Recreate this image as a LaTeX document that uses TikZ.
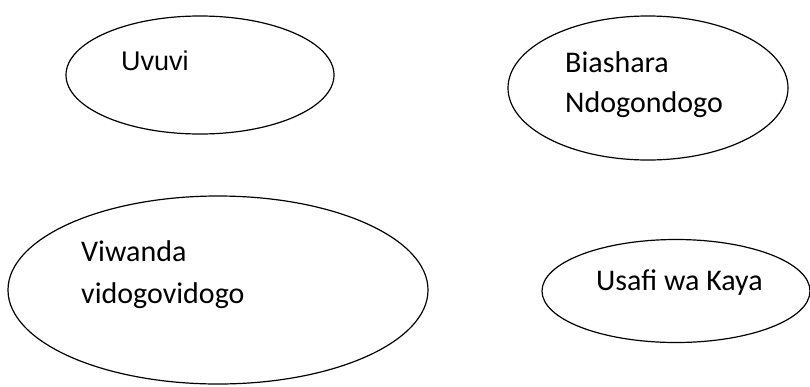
\documentclass[tikz,border=0pt]{standalone}
\usepackage{fontspec}
\usetikzlibrary{shapes.geometric}
\newfontfamily\bodyfont{Carlito}
\newfontfamily\arialfont{Liberation Sans}
\begin{document}
\begin{tikzpicture}[x=1pt,y=-1pt,
  blob/.style={draw=black, line width=1.2pt, ellipse, inner sep=0pt},
  caption/.style={anchor=base west, inner sep=0pt, font=\bodyfont\fontsize{30}{40}\selectfont},
  capsans/.style={anchor=base west, inner sep=0pt, font=\arialfont\fontsize{27}{30}\selectfont}]
\useasboundingbox (0,0) rectangle (810,386);

% the four activity ellipses
\node[blob, minimum width=268pt, minimum height=118pt] (uvuvi) at (200,75) {};
\node[blob, minimum width=280pt, minimum height=144pt] (biashara) at (648,88) {};
\node[blob, minimum width=420pt, minimum height=188pt] (viwanda) at (218,290) {};
\node[blob, minimum width=268pt, minimum height=103pt] (usafi) at (676,291) {};

% their texts
\node[capsans] (t1) at (121,70) {Uvuvi};
\node[caption] (t2a) at (565,72) {Biashara};
\node[caption] (t2b) at (565,112) {Ndogondogo};
\node[caption] (t3a) at (81,261) {Viwanda};
\node[caption] (t3b) at (81,303) {vidogovidogo};
\node[caption] (t4) at (596,290) {Usafi wa Kaya};
\end{tikzpicture}
\end{document}
